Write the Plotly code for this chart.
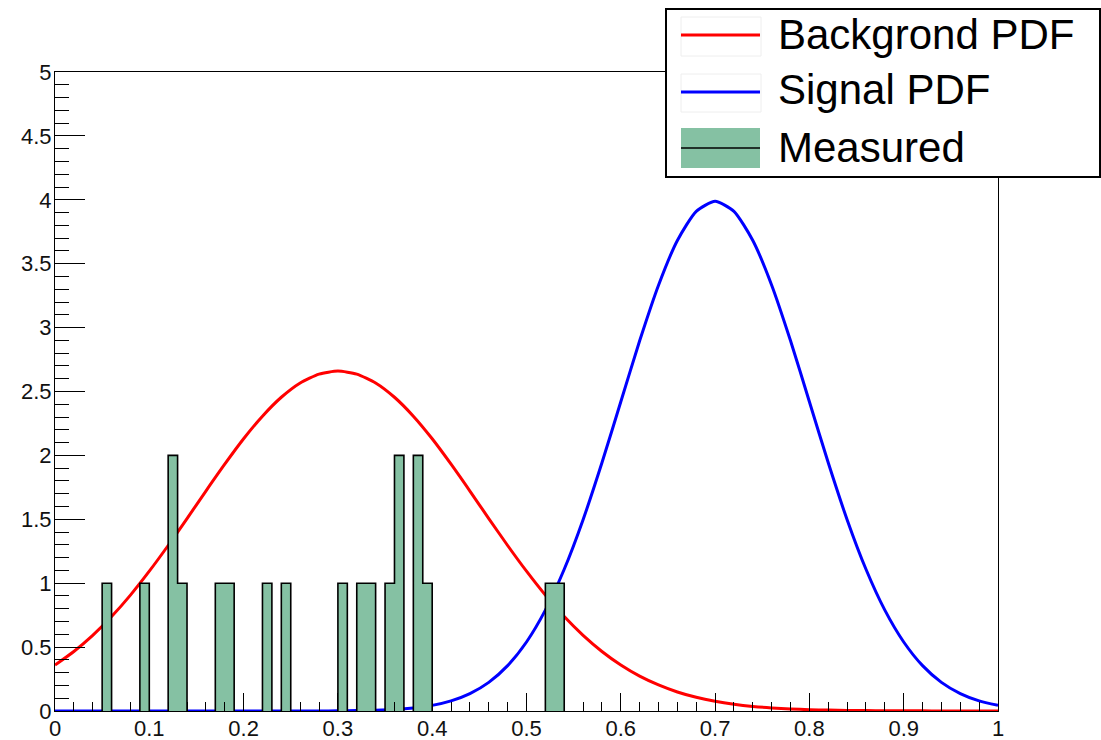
import plotly.graph_objects as go

# ---------------- data ----------------
x_grid = [0.00, 0.02, 0.04, 0.06, 0.08, 0.10, 0.12, 0.14, 0.16, 0.18,
          0.20, 0.22, 0.24, 0.26, 0.28, 0.30, 0.32, 0.34, 0.36, 0.38,
          0.40, 0.42, 0.44, 0.46, 0.48, 0.50, 0.52, 0.54, 0.56, 0.58,
          0.60, 0.62, 0.64, 0.66, 0.68, 0.70, 0.72, 0.74, 0.76, 0.78,
          0.80, 0.82, 0.84, 0.86, 0.88, 0.90, 0.92, 0.94, 0.96, 0.98, 1.00]

background_pdf = [0.360, 0.466, 0.592, 0.739, 0.907, 1.094, 1.295, 1.506, 1.721, 1.931,
                  2.130, 2.307, 2.455, 2.567, 2.636, 2.660, 2.636, 2.567, 2.455, 2.307,
                  2.130, 1.931, 1.721, 1.506, 1.295, 1.094, 0.907, 0.739, 0.592, 0.466,
                  0.360, 0.273, 0.204, 0.149, 0.107, 0.076, 0.053, 0.036, 0.024, 0.016,
                  0.010, 0.007, 0.004, 0.003, 0.002, 0.001, 0.001, 0.000, 0.000, 0.000, 0.000]

signal_pdf = [0.000, 0.000, 0.000, 0.000, 0.000, 0.000, 0.000, 0.000, 0.000, 0.000,
              0.000, 0.000, 0.000, 0.000, 0.000, 0.001, 0.003, 0.006, 0.012, 0.024,
              0.044, 0.079, 0.136, 0.224, 0.355, 0.540, 0.789, 1.109, 1.497, 1.942,
              2.420, 2.897, 3.332, 3.682, 3.910, 3.989, 3.910, 3.682, 3.332, 2.897,
              2.420, 1.942, 1.497, 1.109, 0.789, 0.540, 0.355, 0.224, 0.136, 0.079, 0.044]

measured_bin_low = [0.05, 0.09, 0.12, 0.13, 0.17, 0.18, 0.22, 0.24, 0.30,
                    0.32, 0.33, 0.35, 0.36, 0.38, 0.39, 0.52, 0.53]
measured_counts = [1, 1, 2, 1, 1, 1, 1, 1, 1,
                   1, 1, 1, 2, 2, 1, 1, 1]
bin_width = 0.01

legend_labels = ["Backgrond PDF", "Signal PDF", "Measured"]
x_tick_vals = [0, 0.1, 0.2, 0.3, 0.4, 0.5, 0.6, 0.7, 0.8, 0.9, 1]
y_tick_vals = [0, 0.5, 1, 1.5, 2, 2.5, 3, 3.5, 4, 4.5, 5]

# ---------------- build histogram contour (ROOT-style step outline) ----------------
hx, hy = [], []
prev_hi = None
for lo, c in zip(measured_bin_low, measured_counts):
    hi = lo + bin_width
    if prev_hi is None or abs(lo - prev_hi) > 1e-9:
        if prev_hi is not None:
            hx += [prev_hi, None]
            hy += [0, None]
        hx.append(lo)
        hy.append(0)
    hx += [lo, hi]
    hy += [c, c]
    prev_hi = hi
hx.append(prev_hi)
hy.append(0)

# ---------------- figure ----------------
W, H = 1101, 740
ML, MR, MT, MB = 55, 103, 72, 29
PW, PH = W - ML - MR, H - MT - MB


def px(x):
    return (x - ML) / PW


def py(y):
    return (H - MB - y) / PH


FONT = "Liberation Sans, Arial, Helvetica, sans-serif"

fig = go.Figure()
fig.add_trace(go.Scatter(x=x_grid, y=background_pdf, mode="lines", name=legend_labels[0],
                         line=dict(color="#ff0000", width=3, shape="spline", smoothing=0.6),
                         showlegend=False))
fig.add_trace(go.Scatter(x=x_grid, y=signal_pdf, mode="lines", name=legend_labels[1],
                         line=dict(color="#0000ff", width=3, shape="spline", smoothing=0.6),
                         showlegend=False))
fig.add_trace(go.Scatter(x=hx, y=hy, mode="lines", name=legend_labels[2], fill="toself",
                         fillcolor="#85c1a3", line=dict(color="black", width=1.6),
                         showlegend=False))

axis_common = dict(showgrid=False, zeroline=False, showline=True, linecolor="black",
                   linewidth=1, mirror=True, ticks="inside", tickcolor="black",
                   tickwidth=1, tickfont=dict(family=FONT, size=22, color="#111111"))

fig.update_xaxes(range=[0, 1], tickvals=x_tick_vals, ticklen=18,
                 ticktext=[f"{v:g}" for v in x_tick_vals], ticklabelstandoff=-2,
                 minor=dict(dtick=0.02, tick0=0, ticks="inside", ticklen=9,
                            tickcolor="black", tickwidth=1),
                 **axis_common)
fig.update_yaxes(range=[0, 5], tickvals=y_tick_vals, ticklen=30,
                 ticktext=[f"{v:g}" for v in y_tick_vals], ticklabelstandoff=-2,
                 minor=dict(dtick=0.1, tick0=0, ticks="inside", ticklen=14,
                            tickcolor="black", tickwidth=1),
                 **axis_common)

shapes = []
# legend box
shapes.append(dict(type="rect", xref="paper", yref="paper", x0=px(666), x1=px(1100),
                   y0=py(177), y1=py(9), line=dict(color="black", width=2),
                   fillcolor="white", layer="above"))
# faint symbol boxes
for top, bot in [(17, 56), (74, 112)]:
    shapes.append(dict(type="rect", xref="paper", yref="paper", x0=px(681), x1=px(761),
                       y0=py(bot), y1=py(top), line=dict(color="#eeeeee", width=1),
                       fillcolor="white", layer="above"))
shapes.append(dict(type="line", xref="paper", yref="paper", x0=px(681), x1=px(760),
                   y0=py(35), y1=py(35), line=dict(color="#ff0000", width=3), layer="above"))
shapes.append(dict(type="line", xref="paper", yref="paper", x0=px(681), x1=px(760),
                   y0=py(92), y1=py(92), line=dict(color="#0000ff", width=3), layer="above"))
shapes.append(dict(type="rect", xref="paper", yref="paper", x0=px(681), x1=px(760),
                   y0=py(168), y1=py(128), line=dict(width=0),
                   fillcolor="#85c1a3", layer="above"))
shapes.append(dict(type="line", xref="paper", yref="paper", x0=px(681), x1=px(760),
                   y0=py(148), y1=py(148), line=dict(color="black", width=1.5), layer="above"))

annotations = []
for label, yc in zip(legend_labels, [34, 90, 147]):
    annotations.append(dict(text=label, xref="paper", yref="paper", x=px(776), y=py(yc),
                            xanchor="left", yanchor="middle", showarrow=False,
                            font=dict(family=FONT, size=42, color="black")))

fig.update_layout(width=W, height=H, plot_bgcolor="white", paper_bgcolor="white",
                  margin=dict(l=ML, r=MR, t=MT, b=MB, autoexpand=False),
                  showlegend=False, shapes=shapes, annotations=annotations)

fig.write_html("out.html")
